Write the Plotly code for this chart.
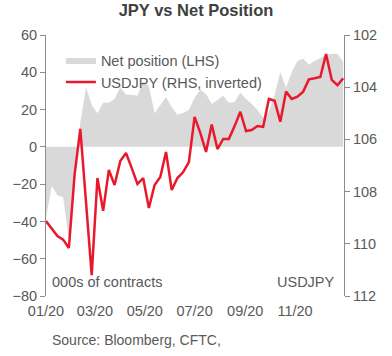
import plotly.graph_objects as go
import pandas as pd

dates = pd.date_range("2020-01-01", periods=53, freq="7D")

net_position = [-38, -21, -26, -27, -50, -18, 13, 32, 22.5, 18,
                23.6, 23.6, 25.7, 32, 28, 28, 27.4, 35, 32.7, 18,
                22.5, 26.8, 21.2, 17.2, 18.2, 19.8, 26.3, 30.6, 28.4, 23,
                25.2, 27.4, 23.6, 24.1, 29, 25.7, 23, 19.8, 15.6, 18.8,
                27.9, 40.2, 31.7, 40.2, 46.1, 47.2, 44, 46.1, 47.7, 49.4,
                49.9, 49.9, 45.6]

usdjpy = [109.13, 109.43, 109.70, 109.84, 110.16, 107.36, 105.60, 108.40, 111.20, 107.48,
          108.74, 107.17, 107.75, 106.83, 106.52, 107.10, 107.71, 107.48, 108.63, 107.75,
          107.44, 106.48, 107.94, 107.48, 107.25, 106.87, 105.14, 105.75, 106.48, 105.43,
          106.37, 105.98, 105.98, 105.49, 104.94, 105.68, 105.64, 105.49, 105.52, 104.45,
          104.52, 105.32, 104.17, 104.45, 104.36, 104.17, 103.70, 103.66, 103.61, 102.73,
          103.72, 103.92, 103.66]

left_ticks = [-80, -60, -40, -20, 0, 20, 40, 60]
right_ticks = [102, 104, 106, 108, 110, 112]

FONT = "Liberation Sans, Arial, sans-serif"
TXT = "#595959"
AX = "#8c8c8c"
FS = 14.5

fig = go.Figure()
fig.add_trace(go.Scatter(
    x=dates, y=net_position, name="Net position (LHS)",
    mode="lines", fill="tozeroy", fillcolor="#d9d9d9",
    line=dict(width=0, color="#d9d9d9"), yaxis="y", xaxis="x"))
fig.add_trace(go.Scatter(
    x=dates, y=usdjpy, name="USDJPY (RHS, inverted)",
    mode="lines", line=dict(color="#e8192c", width=2.5),
    yaxis="y2", xaxis="x"))

xr = ["2020-01-01", "2020-12-31"]
fig.update_layout(
    width=392, height=356,
    margin=dict(l=40, r=48, t=35, b=60),
    paper_bgcolor="white", plot_bgcolor="white",
    font=dict(family=FONT, size=FS, color=TXT),
    title=dict(text="<b>JPY vs Net Position</b>", x=0.5, xanchor="center",
               y=0.97, yanchor="middle",
               font=dict(family=FONT, size=16.5, color="#404040")),
    showlegend=True,
    legend=dict(x=0.05, y=0.965, xanchor="left", yanchor="top",
                bgcolor="rgba(0,0,0,0)", font=dict(size=FS, color=TXT),
                itemwidth=30, tracegroupgap=0),
    xaxis=dict(range=xr, tick0="2020-01-01", dtick="M2", tickformat="%m/%y",
               showgrid=False, showline=False, ticks="", zeroline=False,
               ticklabelstandoff=4, tickfont=dict(size=FS, color=TXT)),
    xaxis2=dict(range=xr, overlaying="x", anchor="free", position=0.5714,
                tick0="2020-01-01", dtick="M2", showticklabels=False,
                showgrid=False, showline=True, linecolor="#7f7f7f", linewidth=1.2,
                ticks="outside", ticklen=4, tickcolor="#7f7f7f", zeroline=False),
    yaxis=dict(range=[-80, 60], tickvals=left_ticks, showgrid=False,
               zeroline=False, showline=True, linecolor=AX, ticks="outside",
               ticklen=5, tickcolor=AX, tickfont=dict(size=FS, color=TXT)),
    yaxis2=dict(range=[112, 102], tickvals=right_ticks, overlaying="y",
                side="right", showgrid=False, zeroline=False, showline=True,
                linecolor=AX, ticks="outside", ticklen=5, tickcolor=AX,
                tickfont=dict(size=FS, color=TXT)),
    annotations=[
        dict(text="000s of contracts", xref="paper", yref="paper", x=0.015, y=0.015,
             xanchor="left", yanchor="bottom", showarrow=False,
             font=dict(size=FS, color=TXT)),
        dict(text="USDJPY", xref="paper", yref="paper", x=0.975, y=0.015,
             xanchor="right", yanchor="bottom", showarrow=False,
             font=dict(size=FS, color=TXT)),
        dict(text="Source: Bloomberg, CFTC,", xref="paper", yref="paper",
             x=0.015, y=-0.17, xanchor="left", yanchor="middle", showarrow=False,
             font=dict(size=14, color=TXT)),
    ],
)

fig.write_html("out.html", config={"displayModeBar": False},
               post_script="document.body.style.margin='0';")
